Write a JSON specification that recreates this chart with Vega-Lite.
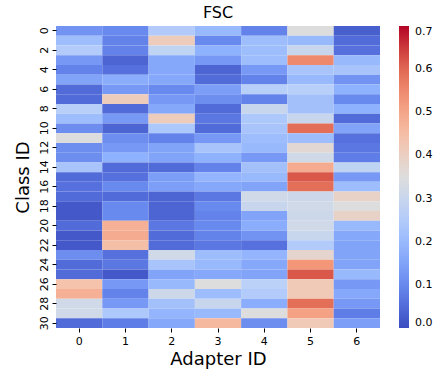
{
  "$schema": "https://vega.github.io/schema/vega-lite/v6.json",
  "autosize": "none",
  "width": 324,
  "height": 302,
  "padding": {"left": 56, "top": 26, "right": 62, "bottom": 44},
  "background": "white",
  "config": {
    "font": "DejaVu Sans",
    "view": {"stroke": null},
    "axis": {"domain": false, "grid": false, "labelFont": "DejaVu Sans", "titleFont": "DejaVu Sans", "labelColor": "#000", "titleColor": "#000", "tickColor": "#000", "titleFontWeight": "normal"}
  },
  "title": {"text": "FSC", "fontSize": 16, "fontWeight": "normal", "font": "DejaVu Sans", "offset": 5, "anchor": "middle", "color": "#000"},
  "data": {"values": [
{"c":0,"a":0,"v":0.12},{"c":0,"a":1,"v":0.10},{"c":0,"a":2,"v":0.25},{"c":0,"a":3,"v":0.20},{"c":0,"a":4,"v":0.09},{"c":0,"a":5,"v":0.35},{"c":0,"a":6,"v":0.03},
{"c":1,"a":0,"v":0.21},{"c":1,"a":1,"v":0.09},{"c":1,"a":2,"v":0.41},{"c":1,"a":3,"v":0.10},{"c":1,"a":4,"v":0.21},{"c":1,"a":5,"v":0.20},{"c":1,"a":6,"v":0.05},
{"c":2,"a":0,"v":0.25},{"c":2,"a":1,"v":0.09},{"c":2,"a":2,"v":0.28},{"c":2,"a":3,"v":0.18},{"c":2,"a":4,"v":0.21},{"c":2,"a":5,"v":0.30},{"c":2,"a":6,"v":0.06},
{"c":3,"a":0,"v":0.13},{"c":3,"a":1,"v":0.04},{"c":3,"a":2,"v":0.16},{"c":3,"a":3,"v":0.13},{"c":3,"a":4,"v":0.21},{"c":3,"a":5,"v":0.55},{"c":3,"a":6,"v":0.20},
{"c":4,"a":0,"v":0.09},{"c":4,"a":1,"v":0.06},{"c":4,"a":2,"v":0.16},{"c":4,"a":3,"v":0.04},{"c":4,"a":4,"v":0.13},{"c":4,"a":5,"v":0.23},{"c":4,"a":6,"v":0.23},
{"c":5,"a":0,"v":0.15},{"c":5,"a":1,"v":0.17},{"c":5,"a":2,"v":0.16},{"c":5,"a":3,"v":0.05},{"c":5,"a":4,"v":0.09},{"c":5,"a":5,"v":0.20},{"c":5,"a":6,"v":0.12},
{"c":6,"a":0,"v":0.05},{"c":6,"a":1,"v":0.13},{"c":6,"a":2,"v":0.10},{"c":6,"a":3,"v":0.14},{"c":6,"a":4,"v":0.26},{"c":6,"a":5,"v":0.26},{"c":6,"a":6,"v":0.18},
{"c":7,"a":0,"v":0.05},{"c":7,"a":1,"v":0.41},{"c":7,"a":2,"v":0.13},{"c":7,"a":3,"v":0.11},{"c":7,"a":4,"v":0.09},{"c":7,"a":5,"v":0.22},{"c":7,"a":6,"v":0.10},
{"c":8,"a":0,"v":0.26},{"c":8,"a":1,"v":0.05},{"c":8,"a":2,"v":0.16},{"c":8,"a":3,"v":0.05},{"c":8,"a":4,"v":0.30},{"c":8,"a":5,"v":0.22},{"c":8,"a":6,"v":0.18},
{"c":9,"a":0,"v":0.21},{"c":9,"a":1,"v":0.13},{"c":9,"a":2,"v":0.41},{"c":9,"a":3,"v":0.07},{"c":9,"a":4,"v":0.24},{"c":9,"a":5,"v":0.30},{"c":9,"a":6,"v":0.05},
{"c":10,"a":0,"v":0.11},{"c":10,"a":1,"v":0.04},{"c":10,"a":2,"v":0.24},{"c":10,"a":3,"v":0.05},{"c":10,"a":4,"v":0.23},{"c":10,"a":5,"v":0.59},{"c":10,"a":6,"v":0.15},
{"c":11,"a":0,"v":0.35},{"c":11,"a":1,"v":0.11},{"c":11,"a":2,"v":0.09},{"c":11,"a":3,"v":0.13},{"c":11,"a":4,"v":0.21},{"c":11,"a":5,"v":0.21},{"c":11,"a":6,"v":0.06},
{"c":12,"a":0,"v":0.11},{"c":12,"a":1,"v":0.13},{"c":12,"a":2,"v":0.15},{"c":12,"a":3,"v":0.23},{"c":12,"a":4,"v":0.20},{"c":12,"a":5,"v":0.37},{"c":12,"a":6,"v":0.07},
{"c":13,"a":0,"v":0.11},{"c":13,"a":1,"v":0.18},{"c":13,"a":2,"v":0.15},{"c":13,"a":3,"v":0.18},{"c":13,"a":4,"v":0.13},{"c":13,"a":5,"v":0.32},{"c":13,"a":6,"v":0.08},
{"c":14,"a":0,"v":0.23},{"c":14,"a":1,"v":0.05},{"c":14,"a":2,"v":0.05},{"c":14,"a":3,"v":0.09},{"c":14,"a":4,"v":0.22},{"c":14,"a":5,"v":0.49},{"c":14,"a":6,"v":0.28},
{"c":15,"a":0,"v":0.05},{"c":15,"a":1,"v":0.06},{"c":15,"a":2,"v":0.14},{"c":15,"a":3,"v":0.19},{"c":15,"a":4,"v":0.20},{"c":15,"a":5,"v":0.62},{"c":15,"a":6,"v":0.13},
{"c":16,"a":0,"v":0.06},{"c":16,"a":1,"v":0.10},{"c":16,"a":2,"v":0.14},{"c":16,"a":3,"v":0.16},{"c":16,"a":4,"v":0.15},{"c":16,"a":5,"v":0.59},{"c":16,"a":6,"v":0.21},
{"c":17,"a":0,"v":0.05},{"c":17,"a":1,"v":0.05},{"c":17,"a":2,"v":0.04},{"c":17,"a":3,"v":0.07},{"c":17,"a":4,"v":0.32},{"c":17,"a":5,"v":0.31},{"c":17,"a":6,"v":0.39},
{"c":18,"a":0,"v":0.02},{"c":18,"a":1,"v":0.10},{"c":18,"a":2,"v":0.04},{"c":18,"a":3,"v":0.10},{"c":18,"a":4,"v":0.30},{"c":18,"a":5,"v":0.32},{"c":18,"a":6,"v":0.35},
{"c":19,"a":0,"v":0.02},{"c":19,"a":1,"v":0.10},{"c":19,"a":2,"v":0.04},{"c":19,"a":3,"v":0.09},{"c":19,"a":4,"v":0.15},{"c":19,"a":5,"v":0.31},{"c":19,"a":6,"v":0.39},
{"c":20,"a":0,"v":0.05},{"c":20,"a":1,"v":0.48},{"c":20,"a":2,"v":0.07},{"c":20,"a":3,"v":0.10},{"c":20,"a":4,"v":0.17},{"c":20,"a":5,"v":0.32},{"c":20,"a":6,"v":0.20},
{"c":21,"a":0,"v":0.02},{"c":21,"a":1,"v":0.49},{"c":21,"a":2,"v":0.05},{"c":21,"a":3,"v":0.09},{"c":21,"a":4,"v":0.12},{"c":21,"a":5,"v":0.30},{"c":21,"a":6,"v":0.16},
{"c":22,"a":0,"v":0.02},{"c":22,"a":1,"v":0.45},{"c":22,"a":2,"v":0.05},{"c":22,"a":3,"v":0.07},{"c":22,"a":4,"v":0.06},{"c":22,"a":5,"v":0.25},{"c":22,"a":6,"v":0.15},
{"c":23,"a":0,"v":0.11},{"c":23,"a":1,"v":0.06},{"c":23,"a":2,"v":0.32},{"c":23,"a":3,"v":0.21},{"c":23,"a":4,"v":0.19},{"c":23,"a":5,"v":0.38},{"c":23,"a":6,"v":0.15},
{"c":24,"a":0,"v":0.05},{"c":24,"a":1,"v":0.07},{"c":24,"a":2,"v":0.23},{"c":24,"a":3,"v":0.20},{"c":24,"a":4,"v":0.16},{"c":24,"a":5,"v":0.53},{"c":24,"a":6,"v":0.15},
{"c":25,"a":0,"v":0.05},{"c":25,"a":1,"v":0.02},{"c":25,"a":2,"v":0.15},{"c":25,"a":3,"v":0.16},{"c":25,"a":4,"v":0.15},{"c":25,"a":5,"v":0.62},{"c":25,"a":6,"v":0.20},
{"c":26,"a":0,"v":0.44},{"c":26,"a":1,"v":0.13},{"c":26,"a":2,"v":0.20},{"c":26,"a":3,"v":0.35},{"c":26,"a":4,"v":0.27},{"c":26,"a":5,"v":0.42},{"c":26,"a":6,"v":0.13},
{"c":27,"a":0,"v":0.48},{"c":27,"a":1,"v":0.09},{"c":27,"a":2,"v":0.31},{"c":27,"a":3,"v":0.21},{"c":27,"a":4,"v":0.25},{"c":27,"a":5,"v":0.42},{"c":27,"a":6,"v":0.16},
{"c":28,"a":0,"v":0.32},{"c":28,"a":1,"v":0.13},{"c":28,"a":2,"v":0.22},{"c":28,"a":3,"v":0.30},{"c":28,"a":4,"v":0.17},{"c":28,"a":5,"v":0.59},{"c":28,"a":6,"v":0.13},
{"c":29,"a":0,"v":0.32},{"c":29,"a":1,"v":0.24},{"c":29,"a":2,"v":0.19},{"c":29,"a":3,"v":0.20},{"c":29,"a":4,"v":0.35},{"c":29,"a":5,"v":0.51},{"c":29,"a":6,"v":0.08},
{"c":30,"a":0,"v":0.05},{"c":30,"a":1,"v":0.08},{"c":30,"a":2,"v":0.16},{"c":30,"a":3,"v":0.46},{"c":30,"a":4,"v":0.11},{"c":30,"a":5,"v":0.42},{"c":30,"a":6,"v":0.14}
  ]},
  "mark": {"type": "rect"},
  "encoding": {
    "x": {"field": "a", "type": "ordinal", "title": "Adapter ID",
      "scale": {"paddingInner": 0, "paddingOuter": 0},
      "axis": {"labelAngle": 0, "labelFontSize": 11, "titleFontSize": 18, "tickSize": 4, "labelPadding": 3, "titlePadding": 4}},
    "y": {"field": "c", "type": "ordinal", "title": "Class ID",
      "scale": {"paddingInner": 0, "paddingOuter": 0},
      "axis": {"values": [0,2,4,6,8,10,12,14,16,18,20,22,24,26,28,30], "labelAngle": -90, "labelAlign": "center", "labelBaseline": "bottom", "labelFontSize": 11, "titleFontSize": 18, "tickSize": 4, "labelPadding": 3, "titlePadding": 6}},
    "color": {"field": "v", "type": "quantitative", "title": null,
      "scale": {"domain": [0, 0.0875, 0.175, 0.2625, 0.35, 0.4375, 0.525, 0.6125, 0.7],
        "range": ["#3b4cc0", "#6282ea", "#8db0fe", "#b8d0f9", "#dddddd", "#f5c4ad", "#f49a7b", "#de604d", "#b40426"], "interpolate": "rgb"},
      "legend": {"orient": "right", "offset": 19, "gradientLength": 302, "gradientThickness": 10, "values": [0, 0.1, 0.2, 0.3, 0.4, 0.5, 0.6, 0.7], "format": ".1f", "labelFontSize": 11, "labelFont": "DejaVu Sans", "labelColor": "#000", "labelOffset": 6, "labelOverlap": false, "gradientStrokeWidth": 0}}
  }
}
